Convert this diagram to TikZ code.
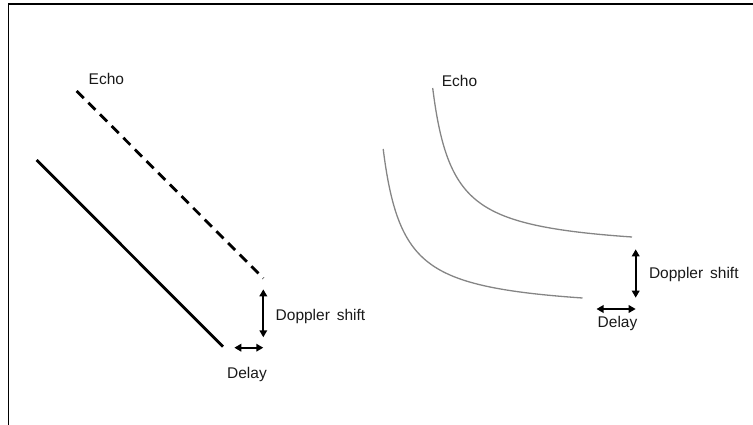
\documentclass[tikz,border=0pt]{standalone}
\usepackage{fontspec}
\setmainfont{Liberation Sans}
\usetikzlibrary{arrows.meta}
\begin{document}
\begin{tikzpicture}[x=1pt,y=-1pt,
  lbl/.style={inner sep=0pt, font=\fontsize{15.5}{18}\selectfont, text=black!90},
  dbl/.style={line width=1.8pt, {Triangle[length=7pt,width=7.5pt]}-{Triangle[length=7pt,width=7.5pt]}},
  echoline/.style={line width=2.8pt, dash pattern=on 10pt off 6.5pt},
  baseline/.style={line width=2.8pt},
  curve/.style={line width=1.3pt, draw=black!48},
  frame/.style={line width=1.6pt, draw=black}]
\useasboundingbox (0,0) rectangle (753,425);
% frame
\coordinate (fa) at (8.3,425);
\coordinate (fb) at (8.3,4);
\coordinate (fc) at (753,4);
\draw[frame] (fa) -- (fb) -- (fc);

% ---- left panel ----
\coordinate (e1) at (76.7,91);
\coordinate (e2) at (263.3,278.3);
\coordinate (s1) at (36.7,160);
\coordinate (s2) at (223,346.7);
\draw[echoline] (e1) -- (e2);
\draw[baseline] (s1) -- (s2);
\node[lbl, anchor=base west] (echoL) at (88.5,85) {Echo};
\coordinate (dv1) at (263.3,289.3);
\coordinate (dv2) at (263.3,337.3);
\draw[dbl] (dv1) -- (dv2);
\coordinate (dh1) at (234.3,347.7);
\coordinate (dh2) at (263.3,347.7);
\draw[dbl] (dh1) -- (dh2);
\node[lbl, anchor=base west] (dopL) at (275.5,320) {Doppler\, shift};
\node[lbl, anchor=base] (delL) at (247,378.3) {Delay};

% ---- right panel ----
\draw[curve] plot[domain=432.7:632, samples=300] (\x, {252.1-3315/(\x-412.5)});
\begin{scope}[shift={(-49.5,61)}]
\draw[curve] plot[domain=432.7:632, samples=300] (\x, {252.1-3315/(\x-412.5)});
\end{scope}
\node[lbl, anchor=base west] (echoR) at (441.7,86.7) {Echo};
\coordinate (rv1) at (635.7,249.3);
\coordinate (rv2) at (635.7,297.7);
\draw[dbl] (rv1) -- (rv2);
\coordinate (rh1) at (596.5,309);
\coordinate (rh2) at (635.7,309);
\draw[dbl] (rh1) -- (rh2);
\node[lbl, anchor=base west] (dopR) at (648.8,278) {Doppler\, shift};
\node[lbl, anchor=base] (delR) at (617.5,327.5) {Delay};
\end{tikzpicture}
\end{document}
